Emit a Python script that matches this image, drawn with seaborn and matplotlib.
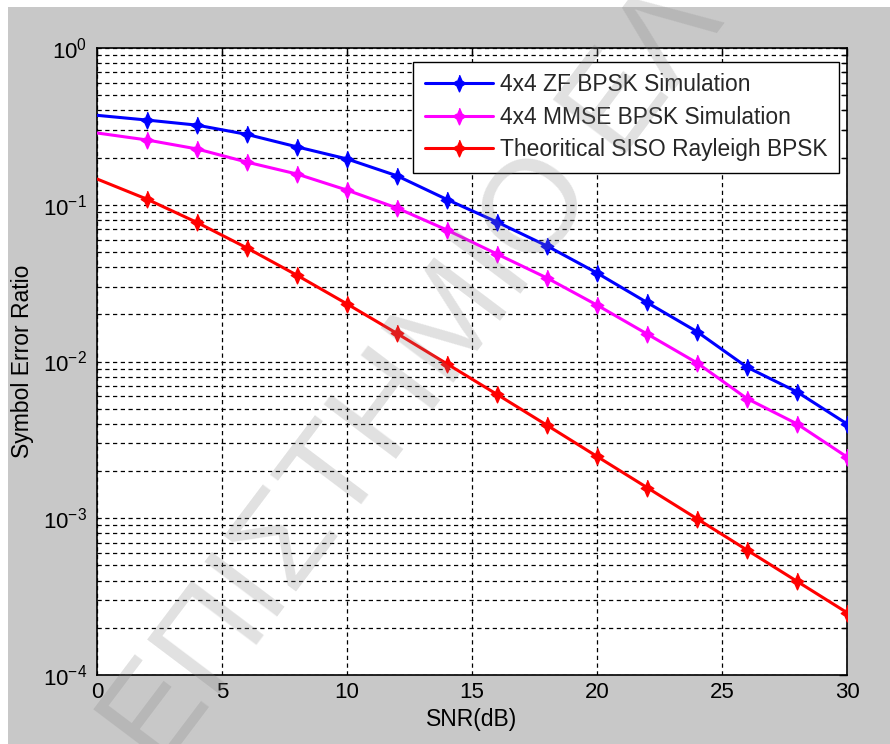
import matplotlib
matplotlib.use("Agg")
import numpy as np
import pandas as pd
import matplotlib.pyplot as plt
import seaborn as sns
from matplotlib.patches import Rectangle
from matplotlib.lines import Line2D
from matplotlib.ticker import LogLocator, NullFormatter

# Symbol error ratio versus SNR for 4x4 ZF / MMSE receivers and SISO Rayleigh
snr_db = [0, 2, 4, 6, 8, 10, 12, 14, 16, 18, 20, 22, 24, 26, 28, 30]
zf_ser = [0.372, 0.347, 0.322, 0.281, 0.234, 0.196, 0.153, 0.108, 0.0776, 0.0546,
          0.0367, 0.0238, 0.0155, 0.0092, 0.0064, 0.0040]
mmse_ser = [0.287, 0.259, 0.227, 0.187, 0.157, 0.124, 0.0953, 0.069, 0.0485, 0.0341,
            0.0229, 0.0150, 0.0098, 0.0058, 0.0040, 0.00246]
siso_ser = [0.146, 0.1085, 0.0771, 0.0530, 0.0355, 0.0233, 0.0151, 0.00966, 0.00617,
            0.00392, 0.00248, 0.00157, 0.000993, 0.000627, 0.000396, 0.000250]

series_labels = ["4x4 ZF BPSK Simulation", "4x4 MMSE BPSK Simulation",
                 "Theoritical SISO Rayleigh BPSK"]
series_colors = ["#0000ff", "#ff00ff", "#ff0000"]
x_ticks = [0, 5, 10, 15, 20, 25, 30]

sns.set_style("white")
plt.rcParams["font.family"] = ["Liberation Sans", "DejaVu Sans"]
plt.rcParams["mathtext.fontset"] = "custom"
plt.rcParams["mathtext.rm"] = "Liberation Sans"
plt.rcParams["mathtext.it"] = "Liberation Sans:italic"
plt.rcParams["mathtext.bf"] = "Liberation Sans:bold"

W, H = 890, 744
fig = plt.figure(figsize=(W / 100, H / 100), dpi=100, facecolor="white")
# grey window background with a thin white margin on the top and left
fig.patches.append(Rectangle((8 / W, 0), 1, 1 - 7 / H, transform=fig.transFigure,
                             facecolor="#c8c8c8", edgecolor="none", zorder=-10))

ax = fig.add_axes([97 / W, 1 - 675 / H, 750 / W, 627 / H])
ax.set_facecolor("white")

# four-point star marker
star = [(0, 1), (0.3, 0.3), (0.75, 0), (0.3, -0.3), (0, -1),
        (-0.3, -0.3), (-0.75, 0), (-0.3, 0.3)]

df = pd.DataFrame({
    "snr": snr_db * 3,
    "ser": zf_ser + mmse_ser + siso_ser,
    "series": sum([[s] * len(snr_db) for s in series_labels], []),
})

for lab, col in zip(series_labels, series_colors):
    sub = df[df["series"] == lab]
    sns.lineplot(data=sub, x="snr", y="ser", ax=ax, color=col, lw=2.2,
                 marker=star, markersize=12, markeredgewidth=1.0,
                 markerfacecolor=col, markeredgecolor=col,
                 markevery=slice(1, None), legend=False, zorder=3)

ax.set_yscale("log")
ax.set_xlim(0, 30)
ax.set_ylim(1e-4, 1)
ax.set_xticks(x_ticks)
ax.yaxis.set_major_locator(LogLocator(base=10, numticks=10))
ax.yaxis.set_minor_locator(LogLocator(base=10, subs=np.arange(2, 10), numticks=50))
ax.yaxis.set_minor_formatter(NullFormatter())

dash = (0, (3.4, 2.8))
ax.grid(True, which="major", axis="x", color="black", lw=0.9, ls=dash)
ax.grid(True, which="both", axis="y", color="black", lw=0.9, ls=dash)
ax.set_axisbelow("line")

for sp in ax.spines.values():
    sp.set_visible(True)
    sp.set_color("black")
    sp.set_linewidth(1.2)

ax.tick_params(axis="both", which="both", direction="in", top=True, right=True,
               color="black", labelsize=16, labelcolor="black")
ax.tick_params(axis="both", which="major", length=6, width=1)
ax.tick_params(axis="both", which="minor", length=3.5, width=1)
ax.tick_params(axis="y", which="major", pad=7)
ax.tick_params(axis="x", which="major", pad=5)

ax.set_xlabel("SNR(dB)", fontsize=16.5, color="black")
ax.set_ylabel("Symbol Error Ratio", fontsize=16.5, color="black")
ax.xaxis.set_label_coords(0.5, -0.052)
ax.yaxis.set_label_coords(-0.084, 0.5)

handles = [Line2D([], [], color=c, lw=2.2, marker=star, markersize=12,
                  markeredgewidth=1.0, markerfacecolor=c, markeredgecolor=c)
           for c in series_colors]
leg = ax.legend(handles, series_labels, loc="upper right",
                bbox_to_anchor=(0.989, 0.978), borderaxespad=0, fontsize=16.4,
                frameon=True, fancybox=False, framealpha=1, edgecolor="black",
                handlelength=3.0, handletextpad=0.3, labelspacing=0.42,
                borderpad=0.5, numpoints=1)
leg.get_frame().set_linewidth(1.0)
leg.set_zorder(5)

# diagonal watermark
fig.text(160 / W, 1 - 772 / H, "ΕΠΙΣΤΗΜΙΟ ΕΛ", rotation=53,
         rotation_mode="anchor", ha="left", va="baseline", fontsize=95,
         color="#808080", alpha=0.24, family=["Liberation Sans", "DejaVu Sans"],
         zorder=20)

fig.savefig("out.png", dpi=100, facecolor=fig.get_facecolor())
